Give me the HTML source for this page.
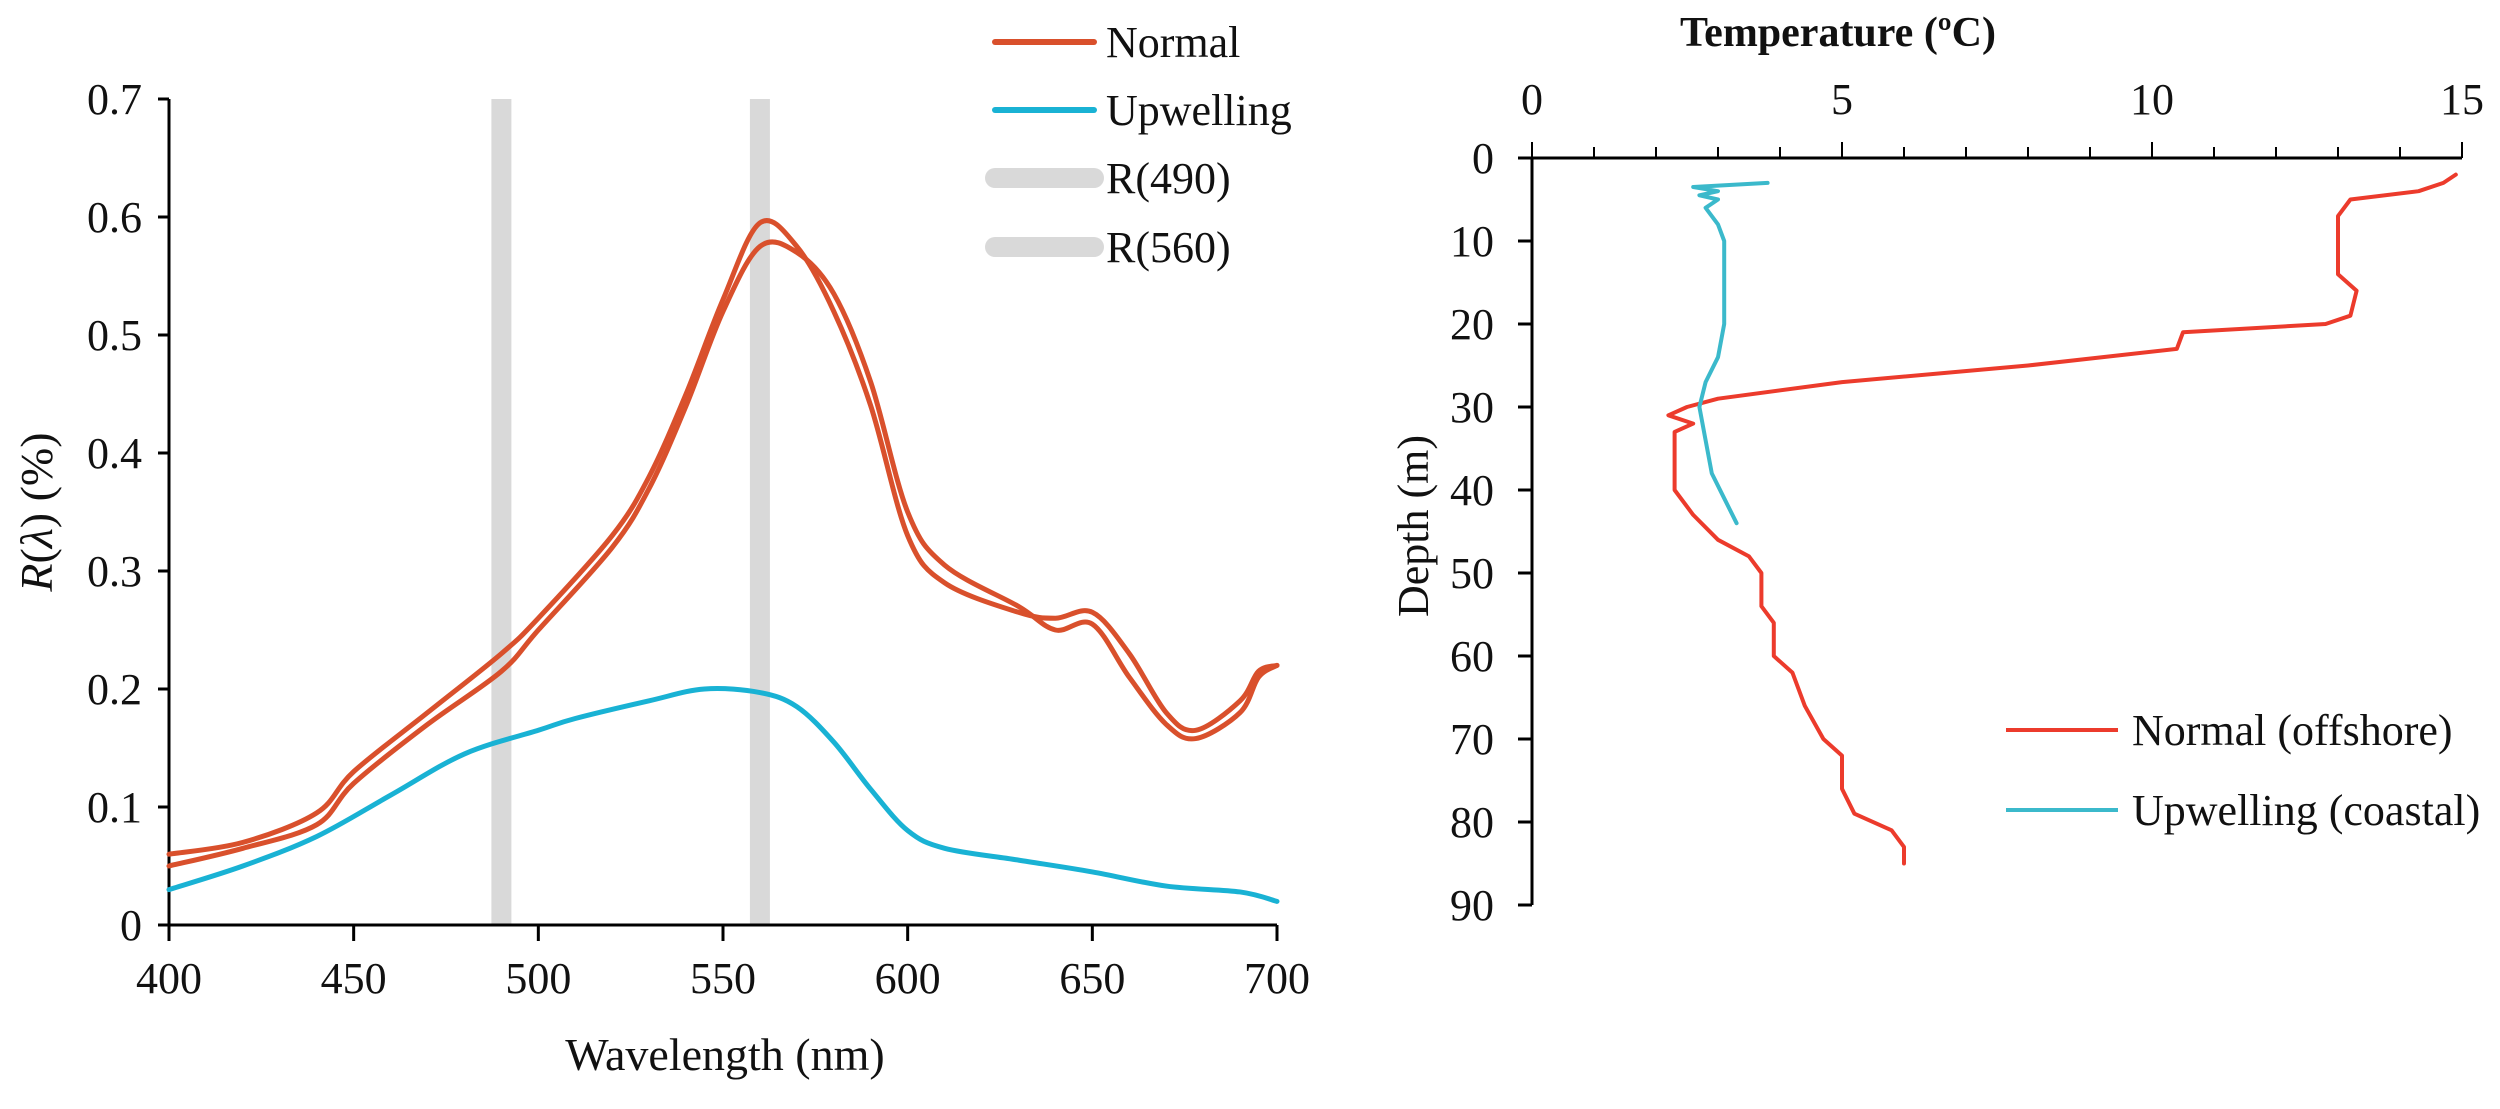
<!DOCTYPE html>
<html><head><meta charset="utf-8"><style>
html,body{margin:0;padding:0;background:#fff;}
svg text{font-family:"Liberation Serif","Times New Roman",serif;fill:#111;}
</style></head><body>
<svg id="fig" width="2500" height="1104" xmlns="http://www.w3.org/2000/svg" font-family="Liberation Serif, serif">
<g id="left"></g>
<g id="right"></g>
</svg>
<script>
// ---- Left chart data ----
const wlTicks = [400,450,500,550,600,650,700];
const rTicks = [0,0.1,0.2,0.3,0.4,0.5,0.6,0.7];
const bandCenters = [490,560];
const normalAWl = [400,420,440,450,470,490,500,520,530,540,550,560,570,580,590,600,610,630,640,650,660,670,678,690,695,700];
const normalAVal = [0.06,0.07,0.095,0.13,0.18,0.23,0.26,0.33,0.38,0.45,0.53,0.595,0.575,0.52,0.44,0.33,0.29,0.265,0.26,0.265,0.23,0.18,0.165,0.19,0.215,0.22];
const normalBWl = [400,420,440,450,470,490,500,520,530,540,550,560,570,580,590,600,610,630,640,650,660,670,678,690,695,700];
const normalBVal = [0.05,0.065,0.085,0.12,0.17,0.215,0.25,0.32,0.37,0.44,0.52,0.575,0.57,0.535,0.46,0.35,0.305,0.27,0.25,0.255,0.21,0.17,0.158,0.18,0.21,0.22];
const upWl = [400,420,440,460,480,500,510,530,545,560,570,580,590,600,610,630,650,670,690,700];
const upVal = [0.03,0.05,0.075,0.11,0.145,0.165,0.175,0.19,0.2,0.197,0.185,0.155,0.115,0.08,0.065,0.055,0.045,0.033,0.028,0.02];
// ---- Right chart data ----
const tempTicks = [0,5,10,15];
const depthTicks = [0,10,20,30,40,50,60,70,80,90];
const offTemp = [14.9,14.7,14.3,13.2,13.0,13.0,13.0,13.3,13.2,12.8,10.5,10.4,8,5,3,2.5,2.2,2.6,2.3,2.3,2.3,2.6,3.0,3.5,3.7,3.7,3.9,3.9,4.2,4.4,4.7,5.0,5.0,5.2,5.8,6.0,6.0];
const offDepth = [2,3,4,5,7,10,14,16,19,20,21,23,25,27,29,30,31,32,33,36,40,43,46,48,50,54,56,60,62,66,70,72,76,79,81,83,85];
const coastTemp = [3.8,2.6,3.0,2.7,3.0,2.8,3.0,3.1,3.1,3.1,3.0,2.8,2.7,2.8,2.9,3.1,3.3];
const coastDepth = [3,3.5,4,4.5,5,6,8,10,15,20,24,27,30,34,38,41,44];

const NS='http://www.w3.org/2000/svg';
const FONT='"Liberation Serif", serif';
function mk(parent,tag,attrs,text){const e=document.createElementNS(NS,tag);for(const k in attrs)e.setAttribute(k,attrs[k]);if(tag==='text')e.setAttribute('font-family',FONT);if(text!==undefined)e.textContent=text;parent.appendChild(e);return e;}
function smooth(pts){let d='M'+pts[0][0]+','+pts[0][1];for(let i=0;i<pts.length-1;i++){const p0=pts[i-1]||pts[i],p1=pts[i],p2=pts[i+1],p3=pts[i+2]||p2;const c1x=p1[0]+(p2[0]-p0[0])/6,c1y=p1[1]+(p2[1]-p0[1])/6,c2x=p2[0]-(p3[0]-p1[0])/6,c2y=p2[1]-(p3[1]-p1[1])/6;d+=' C'+c1x+','+c1y+' '+c2x+','+c2y+' '+p2[0]+','+p2[1];}return d;}

// Left axes
const L=document.getElementById('left');
const xL=w=>169+(w-400)*(1277-169)/300;
const yL=v=>925-v*(925-99)/0.7;
bandCenters.forEach(c=>{const r=mk(L,'rect',{x:xL(c)-10,y:yL(0.7),width:20,height:yL(0)-yL(0.7),fill:'#d9d9d9'});

});
const ya=mk(L,'line',{x1:169,y1:yL(0.7),x2:169,y2:yL(0),stroke:'#000','stroke-width':3});


rTicks.forEach(v=>{mk(L,'line',{x1:158,y1:yL(v),x2:169,y2:yL(v),stroke:'#000','stroke-width':3});
const t=mk(L,'text',{x:142,y:yL(v)+15,'font-size':44,'text-anchor':'end'},v===0?'0':v.toFixed(1));

});
const xa=mk(L,'line',{x1:169,y1:yL(0),x2:1277,y2:yL(0),stroke:'#000','stroke-width':3});


wlTicks.forEach(w=>{mk(L,'line',{x1:xL(w),y1:yL(0),x2:xL(w),y2:yL(0)+16,stroke:'#000','stroke-width':3});
const t=mk(L,'text',{x:xL(w),y:993,'font-size':44,'text-anchor':'middle'},w);

});
const xt=mk(L,'text',{x:725,y:1070,'font-size':46,'text-anchor':'middle'},'Wavelength (nm)');


const yt=mk(L,'text',{x:0,y:0,'font-size':46,'text-anchor':'middle',transform:'translate(52,512) rotate(-90)'});


mk(yt,'tspan',{'font-style':'italic'},'R');mk(yt,'tspan',{},'(');mk(yt,'tspan',{'font-style':'italic'},'λ');mk(yt,'tspan',{},') (%)');
function series(g,xs,ys,fx,fy,color,w,name,sm){const pts=xs.map((x,i)=>[fx(x),fy(ys[i])]);
const p=mk(g,'path',{d:sm?smooth(pts):'M'+pts.map(p=>p.join(',')).join(' L'),fill:'none',stroke:color,'stroke-width':w,'stroke-linejoin':'round','stroke-linecap':'round'});

}
series(L,upWl,upVal,xL,yL,'#19b2d4',5,'upwelling-line',true);
series(L,normalBWl,normalBVal,xL,yL,'#d9502c',5,'normal-line-b',true);
series(L,normalAWl,normalAVal,xL,yL,'#d9502c',5,'normal-line-a',true);
// Left legend
[['Normal','#d9502c',42,6],['Upwelling','#19b2d4',110,6],['R(490)','#d9d9d9',178,20],['R(560)','#d9d9d9',247,20]].forEach(e=>{
const g=mk(L,'g',{});


mk(g,'line',{x1:995,y1:e[2],x2:1094,y2:e[2],stroke:e[1],'stroke-width':e[3],'stroke-linecap':'round'});
mk(g,'text',{x:1106,y:e[2]+15,'font-size':44},e[0]);});

// Right chart
const R=document.getElementById('right');
const xR=t=>1532+t*(2462-1532)/15;
const yR=d=>158+d*(905-158)/90;
const ra=mk(R,'line',{x1:xR(0),y1:yR(0),x2:xR(15),y2:yR(0),stroke:'#000','stroke-width':3});


for(let t=0;t<=15;t++){mk(R,'line',{x1:xR(t),y1:yR(0),x2:xR(t),y2:yR(0)-(t%5===0?16:11),stroke:'#000','stroke-width':2});}
tempTicks.forEach(t=>{const e=mk(R,'text',{x:xR(t),y:114,'font-size':44,'text-anchor':'middle'},t);

});
const tt=mk(R,'text',{x:1838,y:46,'font-size':42,'font-weight':'bold','text-anchor':'middle'},'Temperature (ºC)');


const da=mk(R,'line',{x1:xR(0),y1:yR(0),x2:xR(0),y2:yR(90),stroke:'#000','stroke-width':3});


depthTicks.forEach(d=>{mk(R,'line',{x1:xR(0)-14,y1:yR(d),x2:xR(0),y2:yR(d),stroke:'#000','stroke-width':3});
const e=mk(R,'text',{x:1494,y:yR(d)+15,'font-size':44,'text-anchor':'end'},d);

});
const dt=mk(R,'text',{x:0,y:0,'font-size':44,'text-anchor':'middle',transform:'translate(1428,526) rotate(-90)'},'Depth (m)');


series(R,offTemp,offDepth,xR,yR,'#ec3b2c',4,'normal-offshore-line',false);
series(R,coastTemp,coastDepth,xR,yR,'#3bb9cb',4,'upwelling-coastal-line',false);
[['Normal (offshore)','#ec3b2c',730],['Upwelling (coastal)','#3bb9cb',810]].forEach(e=>{
const g=mk(R,'g',{});


mk(g,'line',{x1:2006,y1:e[2],x2:2118,y2:e[2],stroke:e[1],'stroke-width':4});
mk(g,'text',{x:2132,y:e[2]+15,'font-size':44},e[0]);});
</script>
</body></html>
